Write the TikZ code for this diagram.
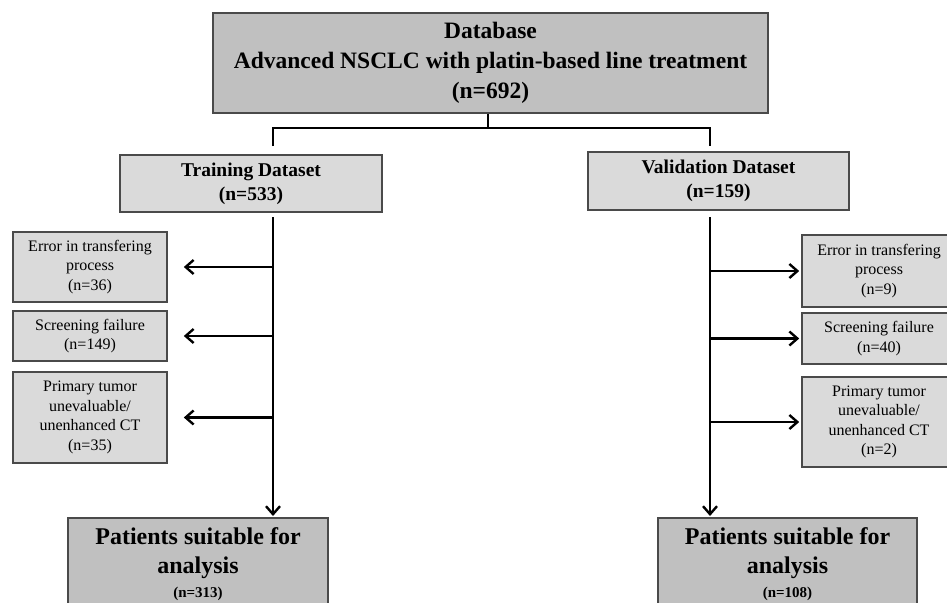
\documentclass[tikz,border=0pt]{standalone}
\usepackage{fontspec}
\setmainfont{Liberation Serif}
\usetikzlibrary{arrows.meta}
\definecolor{boxdark}{HTML}{C0C0C0}
\definecolor{boxlight}{HTML}{DADADA}
\definecolor{edgegray}{HTML}{4A4A4A}
\begin{document}
\begin{tikzpicture}[x=1pt,y=-1pt,
  box/.style={draw=edgegray, line width=1.6pt, inner sep=0pt, align=center},
  mainbox/.style={box, fill=boxdark, font=\bfseries\fontsize{23.5}{30}\selectfont},
  setbox/.style={box, fill=boxlight, font=\bfseries\fontsize{19.5}{24}\selectfont},
  exclbox/.style={box, fill=boxlight, minimum width=154pt, font=\fontsize{16}{19.5}\selectfont},
  patbox/.style={box, fill=boxdark, anchor=north, inner ysep=10pt, font=\bfseries\fontsize{24}{29}\selectfont},
  conn/.style={line width=2.4pt, black},
  arr/.style={line width=2.4pt, black, -{Straight Barb[length=8pt,width=14pt]}}
]
\useasboundingbox (0,0) rectangle (947,602);
\clip (0,0) rectangle (947,602);

% boxes
\node[mainbox, minimum width=555pt, minimum height=100pt] (top) at (490.5,63)
  {Database\\Advanced NSCLC with platin-based line treatment\\(n=692)};
\node[setbox, minimum width=262pt, minimum height=57pt] (train) at (251,183.5)
  {Training Dataset\\(n=533)};
\node[setbox, minimum width=261pt, minimum height=58pt] (valid) at (718.5,181)
  {Validation Dataset\\(n=159)};

\node[exclbox, minimum height=70pt] (l1) at (90,267) {Error in transfering\\process\\(n=36)};
\node[exclbox, minimum height=50pt] (l2) at (90,336) {Screening failure\\(n=149)};
\node[exclbox, minimum height=91pt] (l3) at (90,417.5) {Primary tumor\\unevaluable/\\unenhanced CT\\(n=35)};

\node[exclbox, minimum height=72pt] (r1) at (879,271) {Error in transfering\\process\\(n=9)};
\node[exclbox, minimum height=51pt] (r2) at (879,338.5) {Screening failure\\(n=40)};
\node[exclbox, minimum height=90pt] (r3) at (879,422) {Primary tumor\\unevaluable/\\unenhanced CT\\(n=2)};

\node[patbox, minimum width=260pt] (pl) at (198,517)
  {Patients suitable for\\analysis\\[-5pt]{\fontsize{15}{17}\selectfont (n=313)}};
\node[patbox, minimum width=259pt] (pr) at (787.5,517)
  {Patients suitable for\\analysis\\[-5pt]{\fontsize{15}{17}\selectfont (n=108)}};

% split connector
\coordinate (j) at (488,128);
\coordinate (jl) at (273,128);
\coordinate (jr) at (710,128);
\coordinate (tl) at (273,146);
\coordinate (tr) at (710,146);
\draw[conn] (top.south -| j) -- (j);
\draw[conn] (tl) -- (jl) -- (jr) -- (tr);

% main vertical arrows
\coordinate (sl) at (273,217);
\coordinate (sr) at (710,217);
\draw[arr, shorten >=1pt] (sl) -- (sl |- pl.north);
\draw[arr, shorten >=1pt] (sr) -- (sr |- pr.north);

% exclusion arrows
\foreach \b in {l1,l2,l3}{
  \draw[arr, shorten >=16pt] (\b -| sl) -- (\b.east);
}
\foreach \b in {r1,r2,r3}{
  \draw[arr, shorten >=2pt] (\b -| sr) -- (\b.west);
}
\end{tikzpicture}
\end{document}
